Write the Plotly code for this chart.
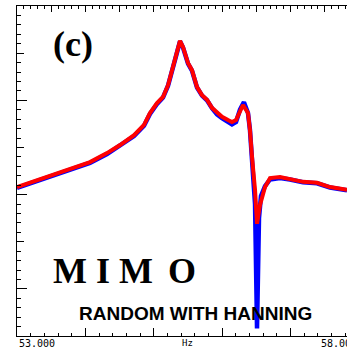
import plotly.graph_objects as go

# frequency (Hz) and response level (dB)
freq_red = [53.000, 53.292, 53.585, 53.877, 54.067, 54.316, 54.506, 54.711, 54.857, 54.944,
            55.047, 55.135, 55.208, 55.281, 55.339, 55.383, 55.427, 55.500, 55.558, 55.632,
            55.705, 55.778, 55.851, 55.924, 55.997, 56.085, 56.143, 56.202, 56.260, 56.304,
            56.377, 56.406, 56.436, 56.480, 56.509, 56.553, 56.626, 56.699, 56.845, 56.991,
            57.181, 57.386, 57.576, 57.825]
level_red = [-38.4, -36.9, -35.4, -34.1, -33.1, -31.2, -29.5, -27.4, -25.2, -22.7,
             -20.6, -19.3, -16.8, -12.9, -10.0, -7.4, -8.7, -12.1, -13.6, -17.2,
             -18.9, -19.9, -21.6, -22.7, -23.5, -24.2, -24.6, -24.2, -22.1, -21.0,
             -22.7, -26.3, -32.0, -39.0, -46.2, -42.2, -38.4, -36.5, -36.3, -36.7,
             -37.3, -37.5, -38.4, -39.0]

freq_blue = [53.000, 53.292, 53.585, 53.877, 54.067, 54.316, 54.506, 54.711, 54.857, 54.944,
             55.047, 55.135, 55.208, 55.281, 55.339, 55.383, 55.427, 55.500, 55.558, 55.632,
             55.705, 55.778, 55.851, 55.924, 55.997, 56.085, 56.143, 56.202, 56.260, 56.318,
             56.377, 56.406, 56.436, 56.480, 56.509, 56.538, 56.567, 56.626, 56.699, 56.845,
             56.991, 57.181, 57.386, 57.576, 57.825]
level_blue = [-38.6, -37.1, -35.6, -34.3, -33.3, -31.4, -29.7, -27.6, -25.4, -22.9,
              -20.8, -19.4, -16.9, -13.0, -10.1, -7.5, -8.8, -12.2, -13.7, -17.3,
              -19.0, -20.0, -21.7, -23.0, -23.8, -24.6, -25.1, -24.6, -22.0, -20.4,
              -22.7, -26.3, -32.0, -42.0, -68.4, -45.0, -40.3, -38.2, -36.8, -36.5,
              -36.8, -37.4, -37.6, -38.5, -39.1]

fig = go.Figure()
fig.add_trace(go.Scatter(x=freq_blue, y=level_blue, mode='lines',
                         line=dict(color='#0000ff', width=4.5)))
fig.add_trace(go.Scatter(x=freq_red, y=level_red, mode='lines',
                         line=dict(color='#ff0000', width=4)))

xr = [53, 53 + 330 / 68.4]

fig.update_layout(
    width=347, height=352,
    margin=dict(l=17, r=0, t=6, b=16, autoexpand=False),
    paper_bgcolor='white', plot_bgcolor='white',
    showlegend=False,
    xaxis=dict(range=xr, dtick=1, tick0=53, ticks='inside', ticklen=8, tickcolor='black',
               showticklabels=False, showgrid=False, zeroline=False,
               showline=True, linecolor='black', linewidth=1,
               minor=dict(dtick=0.2, tick0=53, ticks='inside', ticklen=3, tickcolor='black')),
    xaxis2=dict(range=xr, overlaying='x', side='top', dtick=0.5, tick0=53, ticks='inside',
                ticklen=6, tickcolor='black', showticklabels=False, showgrid=False,
                zeroline=False, showline=True, linecolor='black', linewidth=1,
                minor=dict(dtick=0.1, tick0=53, ticks='inside', ticklen=3, tickcolor='black')),
    yaxis=dict(range=[-70, 0], dtick=20, tick0=0, ticks='inside', ticklen=10, tickcolor='black',
               showticklabels=False, showgrid=False, zeroline=False,
               showline=True, linecolor='black', linewidth=1,
               minor=dict(dtick=2, tick0=0, ticks='inside', ticklen=4, tickcolor='black')),
    yaxis2=dict(range=[-70, 0], overlaying='y', side='left', dtick=10, tick0=0, ticks='inside',
                ticklen=7, tickcolor='black', showticklabels=False, showgrid=False,
                zeroline=False, showline=False),
)
# dummy trace so the top axis is drawn
fig.add_trace(go.Scatter(x=[53], y=[-70], xaxis='x2', yaxis='y2', mode='markers',
                         marker=dict(opacity=0), hoverinfo='skip'))


def px(x):
    return (x - 17) / 330


def py(y):
    return (336 - y) / 330


def label(text, x, y, font, xanchor='center', yanchor='middle'):
    fig.add_annotation(text=text, x=px(x), y=py(y), xref='paper', yref='paper',
                       xanchor=xanchor, yanchor=yanchor, showarrow=False, font=font)


mono = dict(family='DejaVu Sans Mono', size=10, color='black')
label('53.000', 17, 343, mono, xanchor='left')
label('58.000', 359, 343, mono, xanchor='right')
label('Hz', 187, 343, dict(family='DejaVu Sans Mono', size=9, color='black'))

serif = dict(family='Liberation Serif', size=36, color='black')
label('<b>(c)</b>', 73, 44, serif)
for ch, cx in zip(['M', 'I', 'M', 'O'], [70, 102.5, 136, 182.5]):
    label('<b>' + ch + '</b>', cx, 271, serif)
label('<b>RANDOM WITH HANNING</b>', 195, 313,
      dict(family='Liberation Sans', size=19, color='black'))

fig.write_html("out.html", config={'displayModeBar': False},
               post_script="document.body.style.margin='0';")
